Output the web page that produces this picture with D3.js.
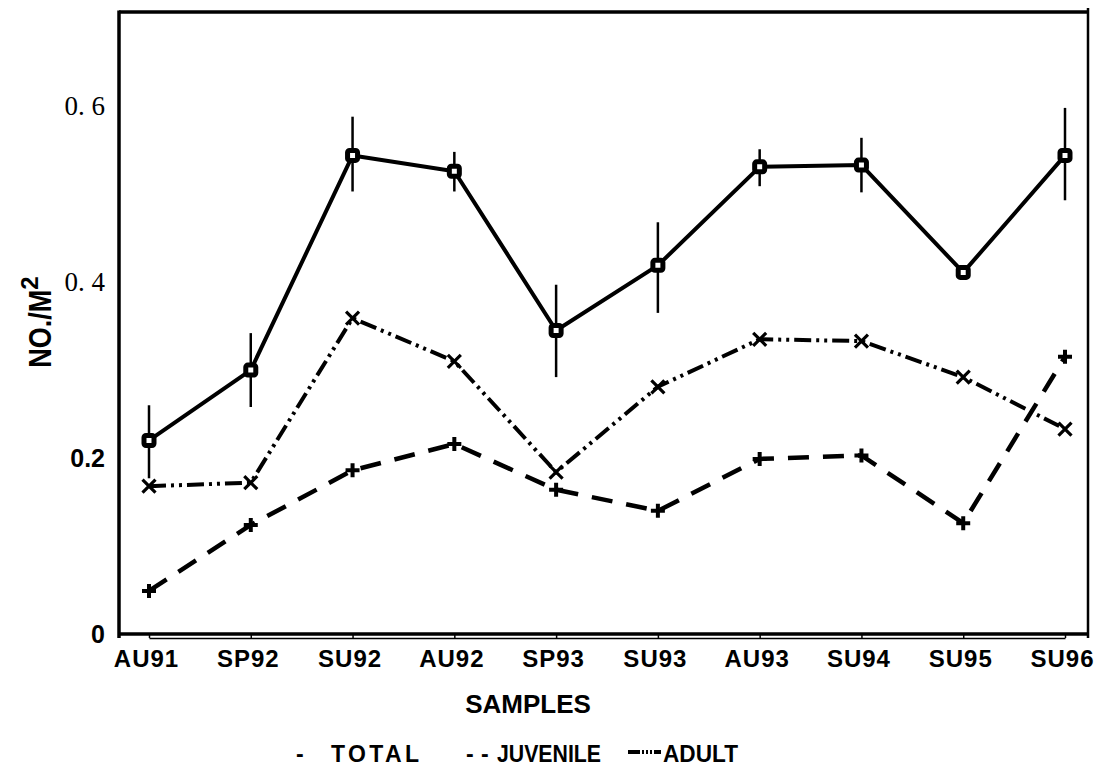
<!DOCTYPE html>
<html>
<head>
<meta charset="utf-8">
<script src="https://cdn.jsdelivr.net/npm/d3@7"></script>
<style>
  body { margin: 0; background: #fff; }
  svg { display: block; }
  .sans { font-family: "Liberation Sans", Arial, sans-serif; font-weight: bold; }
</style>
</head>
<body>
<svg id="chart" width="1102" height="778"></svg>
<script>
// data
var categories = ["AU91", "SP92", "SU92", "AU92", "SP93", "SU93", "AU93", "SU94", "SU95", "SU96"];
var total     = [0.220, 0.300, 0.544, 0.526, 0.345, 0.419, 0.531, 0.533, 0.411, 0.544];
var totalLow  = [0.177, 0.258, 0.503, 0.503, 0.292, 0.365, 0.509, 0.502, 0.405, 0.493];
var totalHigh = [0.260, 0.342, 0.588, 0.548, 0.397, 0.468, 0.551, 0.564, 0.418, 0.598];
var juvenile  = [0.049, 0.124, 0.186, 0.216, 0.164, 0.140, 0.199, 0.203, 0.126, 0.315];
var adult     = [0.168, 0.172, 0.359, 0.310, 0.184, 0.281, 0.335, 0.333, 0.292, 0.233];
var yTicks = [0, 0.2, 0.4, 0.6];
var yTickLabels = ["0", "0.2", "0. 4", "0. 6"];

var margin = {left: 119, top: 12, right: 1088, bottom: 634};
var svg = d3.select("#chart");

var x = d3.scalePoint()
    .domain(categories)
    .range([margin.left + 30, margin.right - 23]);
var y = d3.scaleLinear()
    .domain([0, 0.707])
    .range([margin.bottom, margin.top]);

// frame
svg.append("line").attr("x1", margin.left).attr("x2", margin.right + 1)
  .attr("y1", margin.top).attr("y2", margin.top)
  .attr("stroke", "#000").attr("stroke-width", 3.5);
svg.append("line").attr("x1", margin.left).attr("x2", margin.left)
  .attr("y1", margin.top - 1.5).attr("y2", margin.bottom + 4)
  .attr("stroke", "#000").attr("stroke-width", 3.5);
svg.append("line").attr("x1", margin.right).attr("x2", margin.right)
  .attr("y1", margin.top - 4).attr("y2", margin.bottom + 4)
  .attr("stroke", "#000").attr("stroke-width", 2.5);
svg.append("line").attr("x1", margin.left).attr("x2", margin.right)
  .attr("y1", margin.bottom).attr("y2", margin.bottom)
  .attr("stroke", "#000").attr("stroke-width", 3.5);

// x axis (thin line below with ticks up to the frame)
var xAxis = svg.append("g")
  .attr("transform", "translate(0," + (margin.bottom + 4) + ")")
  .call(d3.axisBottom(x).tickSize(-4).tickSizeOuter(0).tickPadding(12));
xAxis.select(".domain").attr("stroke-width", 1.5);
xAxis.selectAll(".tick line").attr("stroke-width", 1.5);
xAxis.selectAll(".tick text")
  .attr("class", "sans")
  .attr("dx", -3)
  .style("font-size", "24px")
  .style("letter-spacing", "1px")
  .attr("fill", "#000");

// y axis labels
var yAxis = svg.append("g")
  .attr("transform", "translate(" + margin.left + ",0)")
  .call(d3.axisLeft(y).tickValues(yTicks).tickSize(0).tickPadding(14)
    .tickFormat(function(d, i) { return yTickLabels[i]; }));
yAxis.select(".domain").remove();
yAxis.selectAll(".tick text")
  .attr("fill", "#000")
  .each(function(d, i) {
    var t = d3.select(this);
    if (i >= 2) {
      t.style("font-family", "'Liberation Serif', 'DejaVu Serif', serif")
       .style("font-size", "27px").style("font-weight", "normal");
    } else {
      t.attr("class", "sans").style("font-size", "25px");
    }
  });

// y title
var yTitle = svg.append("text")
  .attr("class", "sans")
  .attr("transform", "translate(51,322) rotate(-90)")
  .attr("text-anchor", "middle")
  .style("font-size", "32px");
yTitle.append("tspan").text("NO./M").attr("textLength", 78).attr("lengthAdjust", "spacingAndGlyphs");
yTitle.append("tspan").text("2").attr("dy", -13).style("font-size", "24px");

// lines
var line = function(vals) {
  return d3.line()
    .x(function(d, i) { return x(categories[i]); })
    .y(function(d) { return y(d); })(vals);
};

svg.append("path").attr("d", line(total))
  .attr("fill", "none").attr("stroke", "#000").attr("stroke-width", 4)
  .attr("stroke-linejoin", "round");
svg.append("path").attr("d", line(adult))
  .attr("fill", "none").attr("stroke", "#000").attr("stroke-width", 4)
  .attr("stroke-dasharray", "17,5,3,5,3,5");
svg.append("path").attr("d", line(juvenile))
  .attr("fill", "none").attr("stroke", "#000").attr("stroke-width", 4.5)
  .attr("stroke-dasharray", "21,14");

// error bars on total
svg.selectAll(".err").data(categories).enter().append("line")
  .attr("class", "err")
  .attr("x1", function(d) { return x(d); })
  .attr("x2", function(d) { return x(d); })
  .attr("y1", function(d, i) { return y(totalHigh[i]); })
  .attr("y2", function(d, i) { return y(totalLow[i]); })
  .attr("stroke", "#000").attr("stroke-width", 2.5);

// markers
svg.selectAll(".sq").data(total).enter().append("rect")
  .attr("class", "sq")
  .attr("x", function(d, i) { return x(categories[i]) - 5; })
  .attr("y", function(d) { return y(d) - 5; })
  .attr("width", 10).attr("height", 10).attr("rx", 2)
  .attr("fill", "#fff").attr("stroke", "#000").attr("stroke-width", 5);

svg.selectAll(".xm").data(adult).enter().append("path")
  .attr("class", "xm")
  .attr("d", function(d, i) {
    var cx = x(categories[i]), cy = y(d), s = 6.5;
    return "M" + (cx - s) + "," + (cy - s) + "L" + (cx + s) + "," + (cy + s) +
           "M" + (cx - s) + "," + (cy + s) + "L" + (cx + s) + "," + (cy - s);
  })
  .attr("stroke", "#000").attr("stroke-width", 3.2).attr("fill", "none");

svg.selectAll(".pm").data(juvenile).enter().append("path")
  .attr("class", "pm")
  .attr("d", function(d, i) {
    var cx = x(categories[i]), cy = y(d), s = 7;
    return "M" + (cx - s) + "," + cy + "L" + (cx + s) + "," + cy +
           "M" + cx + "," + (cy - s) + "L" + cx + "," + (cy + s);
  })
  .attr("stroke", "#000").attr("stroke-width", 4).attr("fill", "none");

// x title
svg.append("text").attr("class", "sans")
  .attr("x", 528).attr("y", 713).attr("text-anchor", "middle")
  .style("font-size", "26px").text("SAMPLES");

// legend
var leg = svg.append("g").attr("class", "sans").style("font-size", "23px");
leg.append("text").attr("x", 296).attr("y", 762).text("-");
leg.append("text").attr("x", 331).attr("y", 762).attr("textLength", 88)
  .attr("lengthAdjust", "spacing").text("TOTAL");
leg.append("text").attr("x", 466).attr("y", 762).text("-");
leg.append("text").attr("x", 481).attr("y", 762).text("-");
leg.append("text").attr("x", 497).attr("y", 762).attr("textLength", 104)
  .attr("lengthAdjust", "spacingAndGlyphs").text("JUVENILE");
leg.append("line").attr("x1", 628).attr("x2", 661).attr("y1", 752).attr("y2", 752)
  .attr("stroke", "#000").attr("stroke-width", 4)
  .attr("stroke-dasharray", "12,2,2,2,2,2,2,2,9");
leg.append("text").attr("x", 663).attr("y", 762).attr("textLength", 75)
  .attr("lengthAdjust", "spacingAndGlyphs").text("ADULT");
</script>
</body>
</html>
